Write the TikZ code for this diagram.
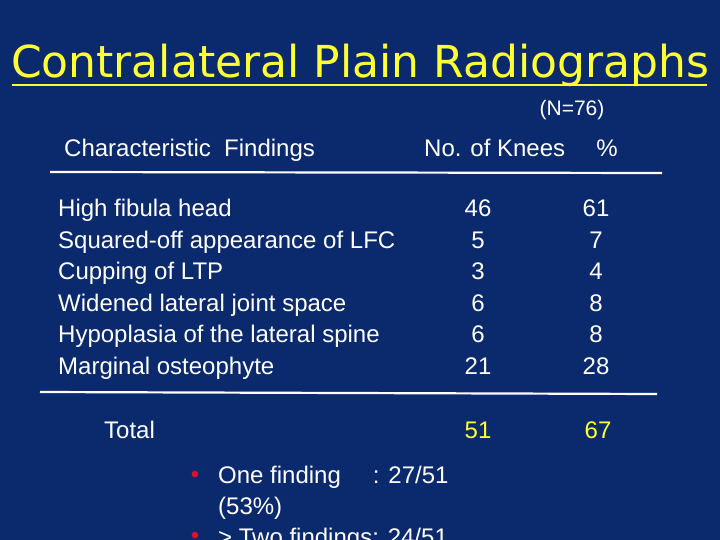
\documentclass[tikz,border=0pt]{standalone}
\usepackage{fontspec}
\setmainfont{Liberation Sans}
\newfontfamily\titlefont{DejaVu Sans}
\definecolor{bg}{HTML}{0B2A6E}
\definecolor{ttl}{HTML}{FFFF33}
\definecolor{bul}{HTML}{E0102A}
\begin{document}
\begin{tikzpicture}[x=1pt,y=-1pt,
  txt/.style={text=white,font=\fontsize{24}{28}\selectfont,inner sep=0pt,anchor=base west},
  num/.style={text=white,font=\fontsize{24}{28}\selectfont,inner sep=0pt,anchor=base},
  rule/.style={draw=white,line width=2.2pt}]
\path[fill=bg,use as bounding box] (0,0) rectangle (720,540);
\begin{scope}
\clip (0,0) rectangle (720,540);
\node[text=ttl,font=\titlefont\fontsize{44}{50}\selectfont,inner sep=0pt,anchor=base] (title) at (360,78) {Contralateral Plain Radiographs};
\coordinate (ula) at (12,85); \coordinate (ulb) at (707,85);
\draw[ttl,line width=2.5pt] (ula) -- (ulb);
\node[num,font=\fontsize{21}{25}\selectfont] (n) at (572,116) {(N=76)};
\node[txt] (h1) at (64,157) {Characteristic\ \ Findings};
\node[txt] (h2) at (424,157) {No. of Knees};
\node[num] (h3) at (607,157) {\%};
\coordinate (l1a) at (50,172); \coordinate (l1b) at (662,173);
\draw[rule] (l1a) -- (l1b);
\foreach \t/\a/\b/\y [count=\i] in {High fibula head/46/61/216,Squared-off appearance of LFC/5/7/248,Cupping of LTP/3/4/279,Widened lateral joint space/6/8/311,Hypoplasia of the lateral spine/6/8/342,Marginal osteophyte/21/28/374}{
  \node[txt] (r\i) at (58,\y) {\t};
  \node[num] (a\i) at (478,\y) {\a};
  \node[num] (b\i) at (596,\y) {\b};
}
\coordinate (l2a) at (40,392); \coordinate (l2b) at (657,394);
\draw[rule] (l2a) -- (l2b);
\node[txt] (tot) at (104,438) {Total};
\node[num,text=ttl] (t1) at (478,438) {51};
\node[num,text=ttl] (t2) at (598,438) {67};
\node[text=bul,font=\fontsize{24}{24}\selectfont,inner sep=0pt] (d1) at (195,477) {•};
\node[txt] (b1) at (218,483) {One finding\hspace{32pt}: 27/51};
\node[txt] (b1b) at (218,514) {(53\%)};
\node[text=bul,font=\fontsize{24}{24}\selectfont,inner sep=0pt] (d2) at (195,538) {•};
\node[txt] (b2) at (218,545) {> Two findings: 24/51};
\end{scope}
\end{tikzpicture}
\end{document}
